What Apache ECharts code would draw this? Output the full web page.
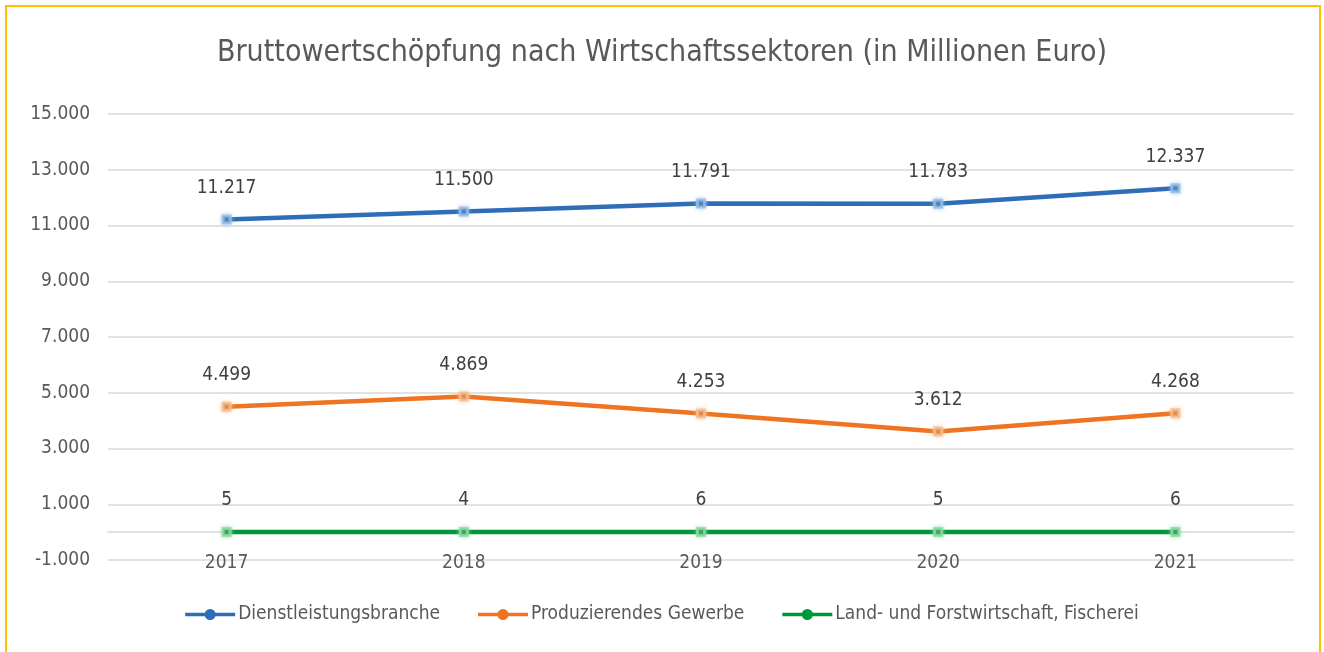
<!DOCTYPE html>
<html>
<head>
<meta charset="utf-8">
<script src="https://cdn.jsdelivr.net/npm/echarts@6/dist/echarts.min.js"></script>
<style>
  html, body { margin: 0; padding: 0; background: #fff; }
  #frame {
    position: absolute; left: 5px; top: 5px; width: 1316px; height: 660px;
    border: 2px solid #FFC000; box-sizing: border-box;
  }
  #chart { position: absolute; left: 0; top: 0; width: 1324px; height: 652px; }
</style>
</head>
<body>
<div id="frame"></div>
<div id="chart"></div>
<script>
const years = ["2017", "2018", "2019", "2020", "2021"];
const dienstleistung = [11217, 11500, 11791, 11783, 12337];
const produzierend = [4499, 4869, 4253, 3612, 4268];
const landwirtschaft = [5, 4, 6, 5, 6];

const seriesNames = [
    "Dienstleistungsbranche",
    "Produzierendes Gewerbe",
    "Land- und Forstwirtschaft, Fischerei",
];
const seriesColors = ["#2E6DB7", "#EE7421", "#00963C"];
const markerCores = ["#2A5C98", "#C9702E", "#1E7A45"];
const markerHalos = ["rgba(150,190,235,0.8)", "rgba(248,190,145,0.8)", "rgba(140,220,165,0.8)"];

const fontFamily = '"Liberation Sans Narrow", "DejaVu Sans Condensed", sans-serif';

const formatNumber = (v) => String(v).replace(/\B(?=(\d{3})+(?!\d))/g, ".");

// line with a dot in the middle, like the Excel legend key
const legendIcon = "path://M0,4.3h50v3.4h-50z M25,0.5a5.5,5.5 0 1,1 -0.01,0z";

const chart = echarts.init(document.getElementById("chart"), null, { renderer: "canvas" });

const dataSets = [dienstleistung, produzierend, landwirtschaft];

chart.setOption({
    animation: false,
    textStyle: { fontFamily: fontFamily },
    title: {
        left: "center",
        top: 33,
        text: "Bruttowertschöpfung nach Wirtschaftssektoren (in Millionen Euro)",
        textStyle: { fontFamily: fontFamily, fontSize: 30, fontWeight: "normal", color: "#595959" },
    },
    grid: { left: 108, right: 30, top: 114, bottom: 92 },
    legend: {
        bottom: 23,
        left: "center",
        itemGap: 38,
        itemWidth: 50,
        itemHeight: 11,
        data: seriesNames.map((n, i) => ({
            name: n,
            icon: legendIcon,
            itemStyle: { color: seriesColors[i], borderWidth: 0 },
        })),
        textStyle: { fontFamily: fontFamily, fontSize: 19, color: "#595959", padding: [0, 0, 0, -2] },
    },
    xAxis: {
        type: "category",
        data: years,
        boundaryGap: true,
        axisLine: { onZero: true, lineStyle: { color: "#D9D9D9", width: 1.5 } },
        axisTick: { show: false },
        axisLabel: { margin: -6, fontSize: 19, color: "#595959", fontFamily: fontFamily },
    },
    yAxis: {
        type: "value",
        min: -1000,
        max: 15000,
        interval: 2000,
        axisLine: { show: false },
        axisTick: { show: false },
        splitLine: { lineStyle: { color: "#D9D9D9", width: 1.5 } },
        axisLabel: {
            margin: 18,
            fontSize: 19,
            color: "#595959",
            fontFamily: fontFamily,
            formatter: (v) => formatNumber(v),
        },
    },
    series: seriesNames.map((name, i) => ({
        name: name,
        type: "line",
        data: dataSets[i],
        symbol: "rect",
        symbolSize: 7,
        lineStyle: { color: seriesColors[i], width: 4.5 },
        itemStyle: {
            color: markerCores[i],
            borderColor: markerHalos[i],
            borderWidth: 3,
            shadowBlur: 4,
            shadowColor: markerHalos[i],
        },
        label: {
            show: true,
            position: "top",
            distance: 17,
            fontSize: 19,
            color: "#404040",
            fontFamily: fontFamily,
            formatter: (p) => formatNumber(p.value),
        },
    })),
    color: seriesColors,
});

window.onresize = () => {
    chart.resize();
};
</script>
</body>
</html>
